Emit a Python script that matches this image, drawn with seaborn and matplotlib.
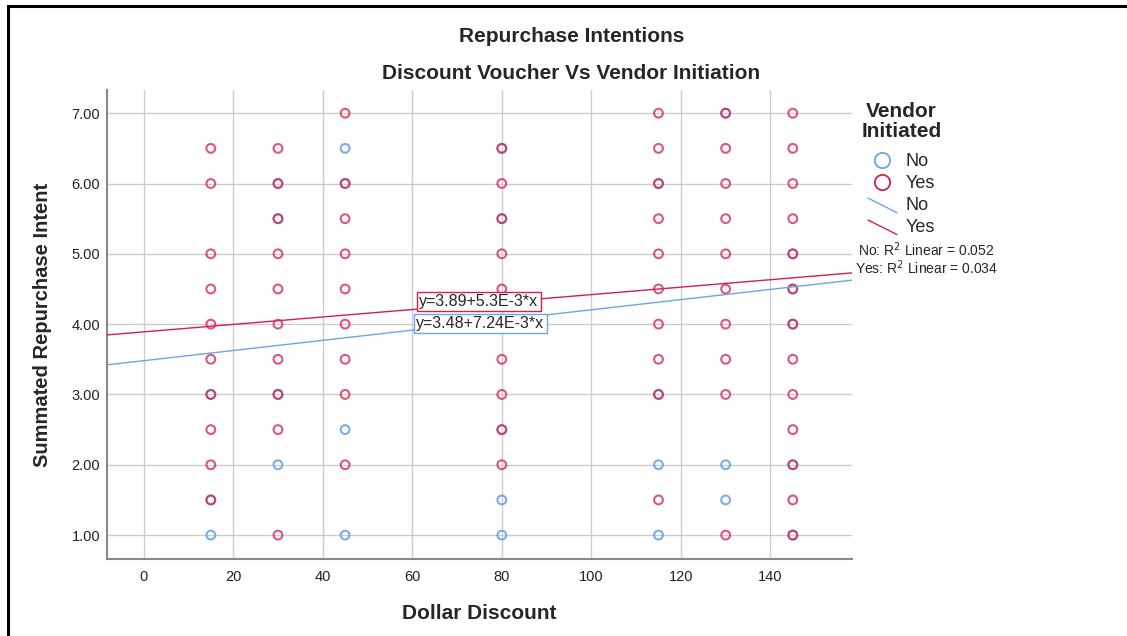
import pandas as pd
import seaborn as sns
import matplotlib.pyplot as plt
from matplotlib.lines import Line2D
from matplotlib.legend_handler import HandlerBase
from matplotlib.patches import Rectangle
from matplotlib.ticker import FormatStrFormatter

# discount / intent points per vendor group
no_x = [15, 15, 15, 30, 30, 30, 30, 45, 45, 45, 45, 80, 80, 80, 80, 80,
        115, 115, 115, 115, 130, 130, 130, 145, 145, 145, 145, 145]
no_y = [3.0, 1.5, 1.0, 6.0, 5.5, 3.0, 2.0, 6.5, 6.0, 2.5, 1.0, 6.5, 5.5, 2.5, 1.5, 1.0,
        6.0, 3.0, 2.0, 1.0, 7.0, 2.0, 1.5, 5.0, 4.5, 4.0, 2.0, 1.0]

yes_x = ([15] * 10 + [30] * 10 + [45] * 9 + [80] * 10 + [115] * 10 + [130] * 10 + [145] * 13)
yes_y = [6.5, 6.0, 5.0, 4.5, 4.0, 3.5, 3.0, 2.5, 2.0, 1.5,
         6.5, 6.0, 5.5, 5.0, 4.5, 4.0, 3.5, 3.0, 2.5, 1.0,
         7.0, 6.0, 5.5, 5.0, 4.5, 4.0, 3.5, 3.0, 2.0,
         6.5, 6.0, 5.5, 5.0, 4.5, 4.0, 3.5, 3.0, 2.5, 2.0,
         7.0, 6.5, 6.0, 5.5, 5.0, 4.5, 4.0, 3.5, 3.0, 1.5,
         7.0, 6.5, 6.0, 5.5, 5.0, 4.5, 4.0, 3.5, 3.0, 1.0,
         7.0, 6.5, 6.0, 5.5, 5.0, 4.5, 4.0, 3.5, 3.0, 2.5, 2.0, 1.5, 1.0]

groups = ["No", "Yes"]
intercepts = [3.48, 3.89]
slopes = [7.24e-3, 5.3e-3]
r_squared = [0.052, 0.034]
fit_labels = ["y=3.48+7.24E-3*x", "y=3.89+5.3E-3*x"]

colors = {"No": "#6aa5e8", "Yes": "#d81e4a"}


class DiagonalLine(HandlerBase):
    # legend key drawn as a short falling line, like the SPSS legend
    def create_artists(self, legend, orig_handle, xdescent, ydescent, width, height, fontsize, trans):
        line = Line2D([0, width], [height * 0.95, -height * 0.2], color=orig_handle.get_color(),
                      lw=orig_handle.get_linewidth(), transform=trans)
        return [line]


sns.set_style("white")
plt.rcParams["font.family"] = ["Liberation Sans", "DejaVu Sans"]

df = pd.concat([
    pd.DataFrame({"discount": yes_x, "intent": yes_y, "vendor": "Yes"}),
    pd.DataFrame({"discount": no_x, "intent": no_y, "vendor": "No"}),
])

fig = plt.figure(figsize=(11.27, 6.36), dpi=100)
ax = fig.add_axes([0.0949, 0.1211, 0.661, 0.7374])

xlim = (-8.2, 158.2)
ylim = (0.66, 7.33)

sns.scatterplot(data=df[df.vendor == "No"], x="discount", y="intent", ax=ax,
                marker="o", s=40, facecolors="none", edgecolor=colors["No"],
                linewidth=1.5, alpha=0.9, legend=False, zorder=3)
sns.scatterplot(data=df[df.vendor == "Yes"], x="discount", y="intent", ax=ax,
                marker="o", s=40, facecolors="none", edgecolor=colors["Yes"],
                linewidth=1.5, alpha=0.75, legend=False, zorder=4)

# fit lines across the whole axis
for g, a, b in zip(groups, intercepts, slopes):
    ax.plot(list(xlim), [a + b * xlim[0], a + b * xlim[1]], color=colors[g], lw=1.0, zorder=5)

ax.text(60.9, 4.009, fit_labels[0], fontsize=11.5, ha="left", va="center", zorder=6,
        bbox=dict(boxstyle="square,pad=0.15", fc="white", ec=colors["No"], lw=1.0))
ax.text(61.5, 4.322, fit_labels[1], fontsize=11.5, ha="left", va="center", zorder=7,
        bbox=dict(boxstyle="square,pad=0.15", fc="white", ec=colors["Yes"], lw=1.0))

ax.set_xlim(*xlim)
ax.set_ylim(*ylim)
ax.set_xticks(range(0, 141, 20))
ax.set_yticks([1, 2, 3, 4, 5, 6, 7])
ax.yaxis.set_major_formatter(FormatStrFormatter("%.2f"))
ax.tick_params(length=0, labelsize=10.5, colors="#222222")
ax.tick_params(axis="x", pad=8)
ax.tick_params(axis="y", pad=5)
ax.grid(True, color="#cccccc", lw=1.0)
ax.set_axisbelow(True)
for side in ["top", "right"]:
    ax.spines[side].set_visible(False)
for side in ["left", "bottom"]:
    ax.spines[side].set_color("#888888")
    ax.spines[side].set_linewidth(1.5)

ax.set_xlabel("Dollar Discount", fontsize=15, fontweight="bold", labelpad=14)
ax.set_ylabel("Summated Repurchase Intent", fontsize=14.5, fontweight="bold", labelpad=14)

fig.text(0.507, 0.942, "Repurchase Intentions", fontsize=15, fontweight="bold",
         ha="center", va="center")
fig.text(0.507, 0.884, "Discount Voucher Vs Vendor Initiation", fontsize=15,
         fontweight="bold", ha="center", va="center")

line_no = Line2D([], [], color=colors["No"], lw=1.0)
line_yes = Line2D([], [], color=colors["Yes"], lw=1.0)
handles = [
    Line2D([], [], ls="none", marker="o", ms=11, mfc="none", mec=colors["No"], mew=1.3),
    Line2D([], [], ls="none", marker="o", ms=11, mfc="none", mec=colors["Yes"], mew=1.3),
    line_no,
    line_yes,
]
leg = fig.legend(handles, groups + groups, title="Vendor\nInitiated",
                 loc="upper left", bbox_to_anchor=(0.750, 0.865), frameon=False,
                 fontsize=13, title_fontproperties={"weight": "bold", "size": 15},
                 handlelength=1.6, handletextpad=0.5, labelspacing=0.27,
                 handler_map={line_no: DiagonalLine(), line_yes: DiagonalLine()})
leg.get_title().set_multialignment("center")
leg.get_title().set_linespacing(1.05)
leg._legend_box.sep = 9  # extra room between title and entries

for i, (g, r2) in enumerate(zip(groups, r_squared)):
    fig.text(0.822, 0.607 - i * 0.028, f"{g}: R$^2$ Linear = {r2:.3f}", fontsize=10,
             ha="center", va="center")

fig.patches.append(Rectangle((8 / 1127, -0.1), 1.2, 1 - 6 / 636 + 0.1,
                             transform=fig.transFigure, fill=False, ec="black", lw=2.2))

fig.savefig("out.png", dpi=100)
